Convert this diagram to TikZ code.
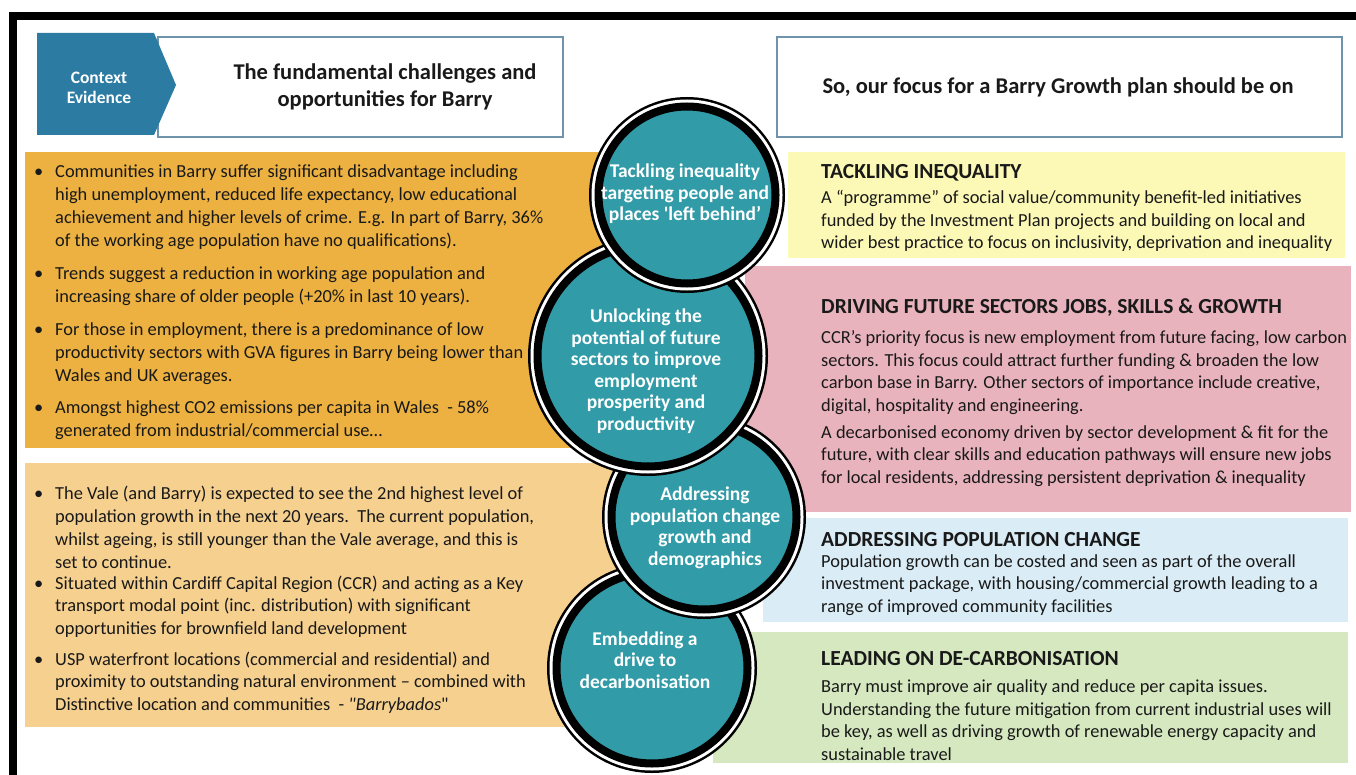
\documentclass[tikz,border=0pt]{standalone}
\usepackage{fontspec}
\setmainfont{Carlito}
\usetikzlibrary{positioning}

\definecolor{ctxblue}{RGB}{43,123,163}
\definecolor{boxline}{RGB}{110,147,170}
\definecolor{gold}{RGB}{236,177,64}
\definecolor{sand}{RGB}{246,208,142}
\definecolor{lemon}{RGB}{252,249,182}
\definecolor{rose}{RGB}{232,179,189}
\definecolor{sky}{RGB}{218,236,245}
\definecolor{sage}{RGB}{214,232,192}
\definecolor{hubteal}{RGB}{50,155,168}
\definecolor{ink}{RGB}{25,25,25}

\begin{document}
\begin{tikzpicture}[x=1pt,y=-1pt,
    body/.style={anchor=base west, inner sep=0, align=left, text=ink,
      font=\fontsize{18.4}{23}\selectfont},
    note/.style={body, font=\fontsize{18.4}{22.5}\selectfont},
    heading/.style={anchor=base west, inner sep=0, text=ink,
      font=\bfseries\fontsize{21.5}{26}\selectfont},
    title/.style={inner sep=0, align=center, text=ink,
      font=\bfseries\fontsize{22.5}{27}\selectfont},
    hub/.style={circle, inner sep=-20pt, fill=hubteal, draw=black, line width=8pt,
      preaction={draw=black, line width=19pt},
      preaction={draw=white, line width=14pt}},
    hubtext/.style={inner sep=0, align=center, text=white,
      font=\bfseries\fontsize{19.5}{21.5}\selectfont}]
    \useasboundingbox (0,0) rectangle (1356,775);

    % Frame
    \fill[black] (9,12) rectangle (1356,20);
    \fill[black] (9,12) rectangle (17,775);

    % Header boxes
    \draw[boxline, line width=1.5pt, fill=white] (158,37) rectangle (563,137);
    \draw[boxline, line width=1.5pt, fill=white] (777,37) rectangle (1342,137);
    \fill[ctxblue] (37,33) -- (154,33) -- (176,85) -- (154,135) -- (37,135) -- cycle;
    \node[inner sep=0, align=center, text=white, font=\bfseries\fontsize{17.5}{20}\selectfont]
      (ctx) at (99,88) {Context\\Evidence};
    \node[title] (challenges) at (385,87) {The fundamental challenges and\\opportunities for Barry};
    \node[title] (focus) at (1058,87) {So, our focus for a Barry Growth plan should be on};

    % Left panels
    \fill[gold] (25,152) rectangle (640,448);
    \fill[sand] (25,463) rectangle (640,727);

    % Right panels
    \fill[lemon] (788,152) rectangle (1345,258);
    \fill[rose] (745,266) rectangle (1351,512);
    \fill[sky] (763,518) rectangle (1348,622);
    \fill[sage] (713,632) rectangle (1348,763);

    % Challenges (base = last line)
    \node[body] (gapA) at (55,247) {\llap{\textbullet\hspace{12pt}}Communities in Barry suffer significant disadvantage including\\
      high unemployment, reduced life expectancy, low educational\\
      achievement and higher levels of crime. E.g. In part of Barry, 36\%\\
      of the working age population have no qualifications).};
    \node[body] (gapB) at (55,302) {\llap{\textbullet\hspace{12pt}}Trends suggest a reduction in working age population and\\
      increasing share of older people (+20\% in last 10 years).};
    \node[body] (gapC) at (55,381) {\llap{\textbullet\hspace{12pt}}For those in employment, there is a predominance of low\\
      productivity sectors with GVA figures in Barry being lower than\\
      Wales and UK averages.};
    \node[body] (gapD) at (55,436) {\llap{\textbullet\hspace{12pt}}Amongst highest CO2 emissions per capita in Wales~ - 58\%\\
      generated from industrial/commercial use…};

    % Opportunities
    \node[body] (optA) at (55,568) {\llap{\textbullet\hspace{12pt}}The Vale (and Barry) is expected to see the 2nd highest level of\\
      population growth in the next 20 years.\ \ The current population,\\
      whilst ageing, is still younger than the Vale average, and this is\\
      set to continue.};
    \node[note] (optB) at (55,634) {\llap{\textbullet\hspace{12pt}}Situated within Cardiff Capital Region (CCR) and acting as a Key\\
      transport modal point (inc. distribution) with significant\\
      opportunities for brownfield land development};
    \node[note] (optC) at (55,710) {\llap{\textbullet\hspace{12pt}}USP waterfront locations (commercial and residential) and\\
      proximity to outstanding natural environment – combined with\\
      Distinctive location and communities~ - \textit{\textquotedbl Barrybados}\textquotedbl};

    % Focus areas
    \node[heading] (inequalityHead) at (821,179) {TACKLING INEQUALITY};
    \node[note] (inequalityText) at (821,249) {A “programme” of social value/community benefit-led initiatives\\
      funded by the Investment Plan projects and building on local and\\
      wider best practice to focus on inclusivity, deprivation and inequality};
    \node[heading] (sectorsHead) at (821,313) {DRIVING FUTURE SECTORS JOBS, SKILLS \& GROWTH};
    \node[note] (sectorsText) at (821,411) {CCR’s priority focus is new employment from future facing, low carbon\\
      sectors. This focus could attract further funding \& broaden the low\\
      carbon base in Barry. Other sectors of importance include creative,\\
      digital, hospitality and engineering.};
    \node[note] (sectorsMore) at (821,483) {A decarbonised economy driven by sector development \& fit for the\\
      future, with clear skills and education pathways will ensure new jobs\\
      for local residents, addressing persistent deprivation \& inequality};
    \node[heading] (populationHead) at (821,546) {ADDRESSING POPULATION CHANGE};
    \node[note] (populationText) at (821,612) {Population growth can be costed and seen as part of the overall\\
      investment package, with housing/commercial growth leading to a\\
      range of improved community facilities};
    \node[heading] (carbonHead) at (821,665) {LEADING ON DE-CARBONISATION};
    \node[note] (carbonText) at (821,760) {Barry must improve air quality and reduce per capita issues.\\
      Understanding the future mitigation from current industrial uses will\\
      be key, as well as driving growth of renewable energy capacity and\\
      sustainable travel};

    % Theme circles, lowest first
    \node[hub, minimum size=191pt] (decarb) at (652,668) {};
    \node[hubtext] (decarbText) at (645,660) {Embedding a\\drive to\\decarbonisation};
    \node[hub, minimum size=185pt] (population) at (704,517) {};
    \node[hubtext] (populationLabel) at (705,528) {Addressing\\population change\\growth and\\demographics};
    \node[hub, minimum size=221pt] (sectors) at (648,356) {};
    \node[hubtext] (sectorsLabel) at (646,371) {Unlocking the\\potential of future\\sectors to improve\\employment\\prosperity and\\productivity};
    \node[hub, minimum size=177pt] (inequality) at (687,195) {};
    \node[hubtext] (inequalityLabel) at (685,194) {Tackling inequality\\targeting people and\\places \textquotesingle left behind’};
\end{tikzpicture}
\end{document}
